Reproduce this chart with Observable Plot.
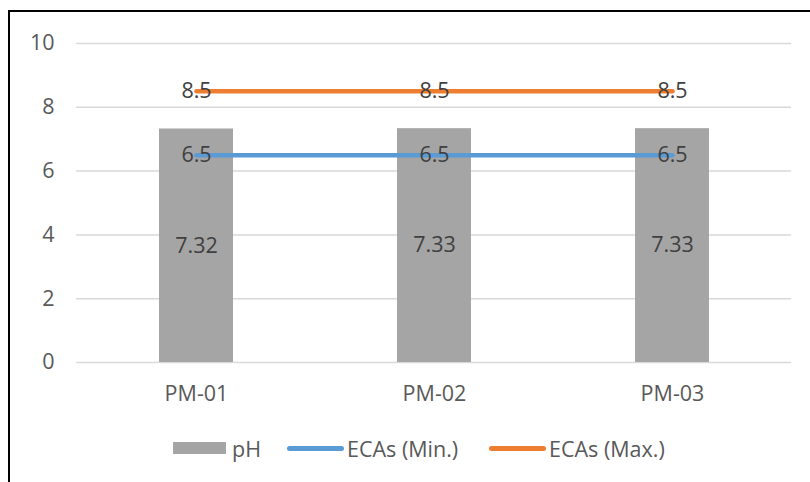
<!DOCTYPE html>
<html>
<head>
<meta charset="utf-8">
<script src="https://cdn.jsdelivr.net/npm/d3@7"></script>
<script src="https://cdn.jsdelivr.net/npm/@observablehq/plot@0.6"></script>
<style>
  html, body { margin: 0; padding: 0; background: #fff; }
  body { width: 810px; height: 482px; position: relative; overflow: hidden; font-family: "Open Sans", sans-serif; }
  #frame { position: absolute; left: 8px; top: 10px; width: 810px; height: 480px; border-top: 2px solid #000; border-left: 2px solid #000; }
  #chart { position: absolute; left: 0; top: 0; }
  #legend { position: absolute; left: 0; top: 421px; height: 30px; width: 800px; font-size: 21.5px; color: #595959; }
  .item { position: absolute; top: 0; display: flex; align-items: center; height: 30px; }
  .swatch-bar { width: 53px; height: 12px; background: #A5A5A5; margin-right: 6px; }
  .swatch-line { width: 57px; height: 5px; border-radius: 3px; margin-right: 3px; }
</style>
</head>
<body>
<div id="frame">
  <div id="chart"></div>
  <div id="legend"></div>
</div>
<script>
const sites = ["PM-01", "PM-02", "PM-03"];
const phValues = [7.32, 7.33, 7.33];
const ecaMin = [6.5, 6.5, 6.5];
const ecaMax = [8.5, 8.5, 8.5];
const yTicks = [0, 2, 4, 6, 8, 10];
const seriesNames = ["pH", "ECAs (Min.)", "ECAs (Max.)"];
const colors = { bar: "#A5A5A5", min: "#5B9BD5", max: "#ED7D31" };

const rows = sites.map((s, i) => ({ site: s, ph: phValues[i], min: ecaMin[i], max: ecaMax[i] }));

const FS = 21.5;
const plot = Plot.plot({
  width: 800,
  height: 410,
  marginLeft: 66,
  marginRight: 19,
  marginTop: 31,
  marginBottom: 60,
  style: { fontFamily: "Open Sans, sans-serif", fontSize: FS + "px", color: "#595959", background: "transparent" },
  x: { type: "band", domain: sites, paddingInner: 0.69, paddingOuter: 0.345, label: null },
  y: { domain: [0, 10], label: null },
  marks: [
    Plot.ruleY(yTicks, { stroke: "#D9D9D9", strokeWidth: 1.5 }),
    Plot.axisY({ ticks: yTicks, tickSize: 0, tickPadding: 22, label: null, fill: "#595959", fontSize: FS }),
    Plot.axisX({ tickSize: 0, tickPadding: 23, label: null, fill: "#595959", fontSize: FS }),
    Plot.barY(rows, { x: "site", y: "ph", fill: colors.bar }),
    Plot.lineY(rows, { x: "site", y: "min", stroke: colors.min, strokeWidth: 4.5, strokeLinecap: "round" }),
    Plot.lineY(rows, { x: "site", y: "max", stroke: colors.max, strokeWidth: 4.5, strokeLinecap: "round" }),
    Plot.text(rows, { x: "site", y: d => d.ph / 2, text: d => d.ph.toFixed(2), fill: "#404040", fontSize: FS }),
    Plot.text(rows, { x: "site", y: "min", text: d => String(d.min), fill: "#404040", fontSize: FS }),
    Plot.text(rows, { x: "site", y: "max", text: d => String(d.max), fill: "#404040", fontSize: FS })
  ]
});
document.getElementById("chart").appendChild(plot);

const legend = document.getElementById("legend");
const items = [
  { name: seriesNames[0], type: "bar", left: 163 },
  { name: seriesNames[1], type: "line", color: colors.min, left: 277 },
  { name: seriesNames[2], type: "line", color: colors.max, left: 479 }
];
items.forEach(it => {
  const div = document.createElement("div");
  div.className = "item";
  div.style.left = it.left + "px";
  const sw = document.createElement("span");
  if (it.type === "bar") { sw.className = "swatch-bar"; }
  else { sw.className = "swatch-line"; sw.style.background = it.color; }
  const tx = document.createElement("span");
  tx.textContent = it.name;
  div.appendChild(sw); div.appendChild(tx);
  legend.appendChild(div);
});
</script>
</body>
</html>
